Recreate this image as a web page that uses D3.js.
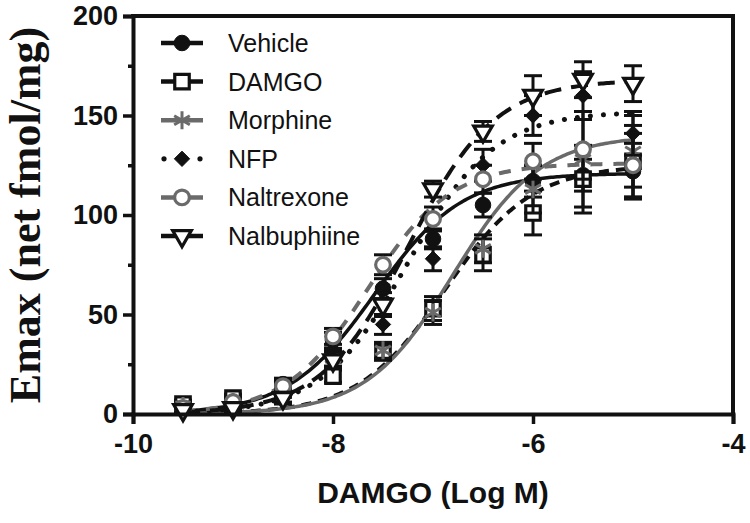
<!DOCTYPE html>
<html>
<head>
<meta charset="utf-8">
<script src="https://cdn.jsdelivr.net/npm/d3@7"></script>
<style>
  html, body { margin: 0; padding: 0; background: #fff; }
  svg { display: block; }
</style>
</head>
<body>
<svg id="chart" width="750" height="523"></svg>
<script>
// ---- data ----
const logDoses = [-9.5, -9, -8.5, -8, -7.5, -7, -6.5, -6, -5.5, -5];
const seriesNames = ["Vehicle", "DAMGO", "Morphine", "NFP", "Naltrexone", "Nalbuphiine"];

const vehicleMean    = [4, 7, 15, 37, 63, 88, 105, 117, 120, 122];
const vehicleSem     = [2, 2, 3, 4, 5, 5, 6, 8, 8, 14];
const damgoMean      = [5, 8, 12, 19, 31, 53, 80, 101, 118, 127];
const damgoSem       = [2, 2, 3, 3, 4, 6, 8, 11, 17, 18];
const morphineMean   = [4, 6, 13, 28, 32, 51, 83, 113, 128, 132];
const morphineSem    = [2, 2, 3, 4, 4, 6, 7, 12, 24, 18];
const nfpMean        = [2, 4, 9, 28, 45, 78, 125, 150, 160, 141];
const nfpSem         = [1, 2, 3, 4, 5, 6, 8, 10, 12, 11];
const naltrexoneMean = [3, 6, 14, 39, 75, 98, 118, 127, 133, 125];
const naltrexoneSem  = [2, 2, 3, 4, 5, 6, 7, 9, 15, 16];
const nalbuphineMean = [2, 3, 8, 27, 55, 113, 142, 160, 168, 166];
const nalbuphineSem  = [1, 2, 3, 4, 6, 4, 5, 10, 9, 9];

// fitted sigmoid parameters
const fitBottom  = [0, 0, 0, 0, 0, 0];
const fitTop     = [121, 125, 140, 152, 126, 168];
const fitLogEC50 = [-7.58, -6.88, -6.8, -7.25, -7.65, -7.25];
const fitHill    = [1, 1, 1, 1, 1.05, 1];
const fitRange   = [-9.5, -5];

const yTicks = [0, 50, 100, 150, 200];
const yMinorTicks = [25, 75, 125, 175];
const xTicks = [-10, -8, -6, -4];

const means = [vehicleMean, damgoMean, morphineMean, nfpMean, naltrexoneMean, nalbuphineMean];
const sems  = [vehicleSem, damgoSem, morphineSem, nfpSem, naltrexoneSem, nalbuphineSem];

// ---- styles ----
const BLACK = "#111", GRAY = "#6a6a6a";
const styles = [
  { line: BLACK, dash: null,       lw: 3.5, cap: "butt",  sym: d3.symbolCircle,   size: 190, fill: BLACK, stroke: BLACK, sw: 1 },
  { line: BLACK, dash: "10,7",     lw: 4,   cap: "butt",  sym: d3.symbolSquare,   size: 210, fill: "#fff", stroke: BLACK, sw: 3.2 },
  { line: GRAY,  dash: null,       lw: 3.5, cap: "butt",  sym: d3.symbolAsterisk, size: 230, fill: "none", stroke: GRAY, sw: 3 },
  { line: BLACK, dash: "0.1,13",   lw: 5,   cap: "round", sym: d3.symbolDiamond2, size: 150, fill: BLACK, stroke: BLACK, sw: 1 },
  { line: GRAY,  dash: "12,11",    lw: 4,   cap: "butt",  sym: d3.symbolCircle,   size: 170, fill: "#fff", stroke: GRAY, sw: 3.2 },
  { line: BLACK, dash: "17,10",    lw: 4,   cap: "butt",  sym: d3.symbolTriangle, size: 150, fill: "#fff", stroke: BLACK, sw: 3.2, rot: 180 }
];

const svg = d3.select("#chart");
const x = d3.scaleLinear().domain([-10, -4]).range([133, 733]);
const y = d3.scaleLinear().domain([0, 200]).range([414, 16]);

// ---- curves ----
const curveGroup = svg.append("g");
seriesNames.forEach((name, i) => {
  const pts = d3.range(fitRange[0], fitRange[1] + 0.001, 0.02).map(v => [
    v, fitBottom[i] + (fitTop[i] - fitBottom[i]) / (1 + Math.pow(10, (fitLogEC50[i] - v) * fitHill[i]))
  ]);
  const st = styles[i];
  curveGroup.append("path")
    .datum(pts)
    .attr("d", d3.line().x(d => x(d[0])).y(d => y(d[1])))
    .attr("fill", "none")
    .attr("stroke", st.line)
    .attr("stroke-width", st.lw)
    .attr("stroke-linecap", st.cap)
    .attr("stroke-dasharray", st.dash);
});

// ---- error bars and markers ----
seriesNames.forEach((name, i) => {
  const st = styles[i];
  const g = svg.append("g");
  const data = logDoses.map((d, k) => ({ x: d, m: means[i][k], s: sems[i][k] }));
  const eb = g.selectAll("g.eb").data(data).enter().append("g")
    .attr("stroke", BLACK).attr("stroke-width", 3);
  eb.append("line")
    .attr("x1", d => x(d.x)).attr("x2", d => x(d.x))
    .attr("y1", d => y(d.m + d.s)).attr("y2", d => y(Math.max(0, d.m - d.s)));
  eb.append("line")
    .attr("x1", d => x(d.x) - 9).attr("x2", d => x(d.x) + 9)
    .attr("y1", d => y(d.m + d.s)).attr("y2", d => y(d.m + d.s));
  eb.filter(d => d.m - d.s > 0).append("line")
    .attr("x1", d => x(d.x) - 9).attr("x2", d => x(d.x) + 9)
    .attr("y1", d => y(d.m - d.s)).attr("y2", d => y(d.m - d.s));
  g.selectAll("path.mk").data(data).enter().append("path")
    .attr("d", d3.symbol().type(st.sym).size(st.size))
    .attr("transform", d => `translate(${x(d.x)},${y(d.m)})` + (st.rot ? ` rotate(${st.rot})` : ""))
    .attr("fill", st.fill)
    .attr("stroke", st.stroke)
    .attr("stroke-width", st.sw);
});

// ---- axes ----
const axisG = svg.append("g");
axisG.append("g").attr("transform", "translate(133,0)")
  .call(d3.axisLeft(y).tickValues(yTicks).tickSize(10).tickPadding(5).tickFormat(d => String(d)));
axisG.append("g").attr("transform", "translate(133,0)")
  .call(d3.axisLeft(y).tickValues(yMinorTicks).tickSize(5).tickFormat(""))
  .call(g => g.select(".domain").remove());
axisG.append("g").attr("transform", "translate(0,414)")
  .call(d3.axisBottom(x).tickValues(xTicks).tickSize(10).tickPadding(10).tickFormat(d => String(d)));

axisG.selectAll(".domain").attr("stroke", BLACK).attr("stroke-width", 4);
axisG.selectAll(".tick line").attr("stroke", BLACK).attr("stroke-width", 3.5);
axisG.selectAll(".tick text")
  .attr("fill", BLACK)
  .style("font-family", "'Liberation Sans', Arial, sans-serif")
  .style("font-weight", "bold")
  .style("font-size", "27px");

// frame (top and right)
axisG.append("line").attr("x1", x(-10) - 2).attr("x2", x(-4) + 2).attr("y1", y(200)).attr("y2", y(200))
  .attr("stroke", BLACK).attr("stroke-width", 4);
axisG.append("line").attr("x1", x(-4)).attr("x2", x(-4)).attr("y1", y(200)).attr("y2", y(0))
  .attr("stroke", BLACK).attr("stroke-width", 4);

// axis titles
svg.append("text")
  .attr("transform", `translate(40,${(y(0) + y(200)) / 2}) rotate(-90)`)
  .attr("text-anchor", "middle")
  .attr("fill", BLACK)
  .style("font-family", "'Liberation Serif', 'Times New Roman', serif")
  .style("font-weight", "bold")
  .style("font-size", "44px")
  .text("Emax (net fmol/mg)");

svg.append("text")
  .attr("x", (x(-10) + x(-4)) / 2)
  .attr("y", 503)
  .attr("text-anchor", "middle")
  .attr("fill", BLACK)
  .style("font-family", "'Liberation Sans', Arial, sans-serif")
  .style("font-weight", "bold")
  .style("font-size", "30px")
  .text("DAMGO (Log M)");

// ---- legend ----
const legend = svg.append("g");
seriesNames.forEach((name, i) => {
  const st = styles[i];
  const cy = 43 + i * 38.6;
  const row = legend.append("g").attr("transform", `translate(0,${cy})`);
  if (i === 3) {
    row.selectAll("circle.dot").data([164, 200]).enter().append("circle")
      .attr("cx", d => d).attr("cy", 0).attr("r", 2.6).attr("fill", BLACK);
  } else {
    row.append("line").attr("x1", 161).attr("x2", 203).attr("y1", 0).attr("y2", 0)
      .attr("stroke", st.line).attr("stroke-width", 4.5);
  }
  row.append("path")
    .attr("d", d3.symbol().type(st.sym).size(st.size))
    .attr("transform", `translate(182,0)` + (st.rot ? ` rotate(${st.rot})` : ""))
    .attr("fill", st.fill)
    .attr("stroke", st.stroke)
    .attr("stroke-width", st.sw);
  row.append("text")
    .attr("x", 228).attr("y", 0).attr("dy", "0.36em")
    .attr("fill", BLACK)
    .style("font-family", "'Liberation Sans', Arial, sans-serif")
    .style("font-size", "25px")
    .text(name);
});
</script>
</body>
</html>
